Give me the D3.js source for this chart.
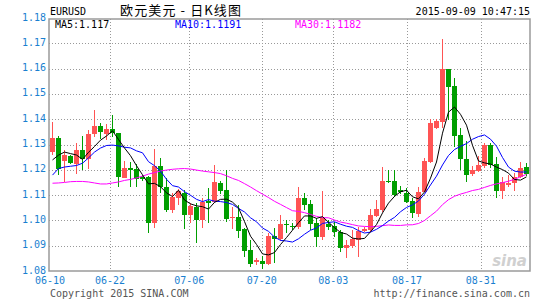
<!DOCTYPE html>
<html>
<head>
<meta charset="utf-8">
<script src="https://d3js.org/d3.v7.min.js"></script>
<style>
body { margin: 0; background: #fff; }
svg text { font-family: "DejaVu Sans Mono", monospace; font-size: 10px; }
.grid line { stroke: #999; stroke-dasharray: 1,2; shape-rendering: crispEdges; }
.ma { fill: none; stroke-width: 1; }
</style>
</head>
<body>
<svg id="chart"></svg>
<script>
// daily OHLC, EURUSD 2015-06-10 .. 2015-09-09
var opens = [1.1272,1.1326,1.1235,1.1255,1.1223,1.1278,1.1243,1.1340,1.1373,1.1342,
  1.1360,1.1344,1.1169,1.1208,1.1202,1.1173,1.1173,1.0991,1.1215,1.1133,
  1.1041,1.1087,1.1109,1.1021,1.1054,1.1002,1.1077,1.1074,1.1149,1.1120,
  1.1008,1.1015,1.0966,1.0883,1.0837,1.0840,1.0828,1.0938,1.0925,1.0986,
  1.0978,1.0975,1.1087,1.1065,1.0989,1.0933,1.0986,1.0978,1.0955,1.0890,
  1.0900,1.0923,1.0958,1.0962,1.1017,1.1041,1.1157,1.1157,1.1121,1.1110,
  1.1077,1.1027,1.1113,1.1232,1.1364,1.1390,1.1598,1.1531,1.1338,1.1242,
  1.1183,1.1196,1.1216,1.1298,1.1222,1.1117,1.1140,1.1147,1.1170,1.1212];
var highs = [1.1389,1.1335,1.1278,1.1258,1.1304,1.1334,1.1359,1.1436,1.1385,1.1381,
  1.1415,1.1344,1.1235,1.1230,1.1222,1.1179,1.1175,1.1281,1.1245,1.1166,
  1.1107,1.1123,1.1120,1.1070,1.1068,1.1087,1.1127,1.1219,1.1156,1.1199,
  1.1054,1.1061,1.0969,1.0923,1.0850,1.0859,1.0949,1.0969,1.1021,1.1002,
  1.0991,1.1133,1.1107,1.1081,1.1008,1.1117,1.1002,1.0995,1.0962,1.0923,
  1.0962,1.0973,1.0972,1.1045,1.1081,1.1213,1.1199,1.1199,1.1136,1.1128,
  1.1089,1.1132,1.1248,1.1400,1.1401,1.1717,1.1598,1.1562,1.1364,1.1314,
  1.1215,1.1253,1.1306,1.1306,1.1249,1.1173,1.1179,1.1186,1.1232,1.1226];
var lows = [1.1258,1.1179,1.1153,1.1223,1.1185,1.1199,1.1203,1.1328,1.1322,1.1318,
  1.1331,1.1133,1.1166,1.1133,1.1131,1.1156,1.0951,1.0969,1.1107,1.1034,
  1.1030,1.1061,1.0965,1.0989,1.0912,1.0969,1.0991,1.1069,1.1104,1.0995,
  1.0965,1.0929,1.0854,1.0817,1.0824,1.0807,1.0824,1.0830,1.0919,1.0949,
  1.0962,1.0966,1.1041,1.0962,1.0894,1.0923,1.0962,1.0933,1.0876,1.0850,
  1.0891,1.0855,1.0954,1.0955,1.1013,1.1033,1.1148,1.1094,1.1104,1.1069,
  1.1010,1.1015,1.1112,1.1226,1.1361,1.1364,1.1397,1.1291,1.1199,1.1153,
  1.1177,1.1191,1.1207,1.1207,1.1087,1.1085,1.1132,1.1117,1.1168,1.1176];
var closes = [1.1327,1.1203,1.1258,1.1226,1.1278,1.1241,1.1342,1.1374,1.1351,1.1360,
  1.1344,1.1170,1.1206,1.1199,1.1162,1.1164,1.0991,1.1216,1.1133,1.1041,
  1.1091,1.1117,1.1021,1.1057,1.1002,1.1074,1.1070,1.1153,1.1117,1.1006,
  1.1015,1.0958,1.0881,1.0828,1.0843,1.0828,1.0938,1.0928,1.0986,1.0981,
  1.0973,1.1087,1.1061,1.0986,1.0933,1.1008,1.0975,1.0955,1.0890,1.0903,
  1.0926,1.0959,1.0966,1.1021,1.1045,1.1156,1.1153,1.1100,1.1112,1.1074,
  1.1028,1.1112,1.1235,1.1386,1.1393,1.1598,1.1528,1.1335,1.1242,1.1179,
  1.1199,1.1219,1.1298,1.1219,1.1118,1.1150,1.1149,1.1173,1.1206,1.1183];

// MA values at the left edge (their windows start before the first visible day)
var ma5Head = [1.1239,1.1258,1.1270,1.1264];
var ma10Head = [1.1179,1.1205,1.1211,1.1214,1.1217,1.1226,1.1247,1.1270,1.1286];
var ma30Head = [1.1147,1.1148,1.1150,1.1153,1.1154,1.1154,1.1152,1.1148,1.1144,1.1144,
  1.1148,1.1152,1.1158,1.1162,1.1168,1.1175,1.1183,1.1189,1.1195,1.1199,
  1.1202,1.1204,1.1205,1.1203,1.1199,1.1195,1.1192,1.1189,1.1185];

var dateLabels = ['06-10','06-22','07-06','07-20','08-03','08-17','08-31'];
var datePos = [0, 10, 23.2, 35.3, 47.2, 59.5, 71.8];
var priceTicks = [1.08,1.09,1.10,1.11,1.12,1.13,1.14,1.15,1.16,1.17,1.18];
var legend = [['MA5:1.117', '#000'], ['MA10:1.1191', '#0000ff'], ['MA30:1.1182', '#ff00ff']];
var legendPos = [55, 175, 295];

function movingAvg(n, head) {
	return closes.map(function(c, i) {
		if (i < head.length) { return head[i]; }
		return d3.mean(closes.slice(i - n + 1, i + 1));
	});
}
var ma5 = movingAvg(5, ma5Head);
var ma10 = movingAvg(10, ma10Head);
var ma30 = movingAvg(30, ma30Head);

var W = 545, H = 300;
var box = { left: 49, right: 530, top: 19, bottom: 271 };
var svg = d3.select('#chart').attr('width', W).attr('height', H);

var x = d3.scaleLinear().domain([0, 80]).range([50, 530]);
var y = d3.scaleLinear().domain([1.08, 1.18]).range([271, 18]);

// grid
var grid = svg.append('g').attr('class', 'grid');
grid.selectAll('.hl').data(priceTicks.slice(1, -1)).enter().append('line')
	.attr('x1', box.left).attr('x2', box.right)
	.attr('y1', function(d) { return Math.round(y(d)) + 0.5; })
	.attr('y2', function(d) { return Math.round(y(d)) + 0.5; });
grid.selectAll('.vl').data(datePos.slice(1)).enter().append('line')
	.attr('y1', box.top).attr('y2', box.bottom)
	.attr('x1', function(d) { return Math.round(x(d)) + 0.5; })
	.attr('x2', function(d) { return Math.round(x(d)) + 0.5; });

// candles
var idx = d3.range(closes.length);
function col(i) { return closes[i] >= opens[i] ? '#ff5454' : '#009e00'; }
var candle = svg.append('g').attr('shape-rendering', 'crispEdges')
	.selectAll('g').data(idx).enter().append('g');
candle.append('line')
	.attr('x1', function(i) { return x(i) + 2.5; })
	.attr('x2', function(i) { return x(i) + 2.5; })
	.attr('y1', function(i) { return y(highs[i]); })
	.attr('y2', function(i) { return y(lows[i]); })
	.attr('stroke', col);
candle.append('rect')
	.attr('x', function(i) { return x(i); })
	.attr('width', 5)
	.attr('y', function(i) { return y(Math.max(opens[i], closes[i])); })
	.attr('height', function(i) { return Math.max(1, Math.abs(y(opens[i]) - y(closes[i]))); })
	.attr('fill', col);

// moving averages
var line = d3.line()
	.x(function(d, i) { return x(i) + 2.5; })
	.y(function(d) { return y(d); });
svg.append('path').attr('class', 'ma').attr('stroke', '#ff00ff').attr('d', line(ma30));
svg.append('path').attr('class', 'ma').attr('stroke', '#0000ff').attr('d', line(ma10));
svg.append('path').attr('class', 'ma').attr('stroke', '#000').attr('d', line(ma5));

// frame
svg.append('path')
	.attr('d', 'M' + box.left + ',' + box.top + 'V' + box.bottom + 'H' + box.right + 'V' + box.top + 'Z')
	.attr('fill', 'none').attr('stroke', '#9a9a9a').attr('stroke-width', 1.5);

// axis labels
svg.selectAll('.yl').data(priceTicks).enter().append('text')
	.attr('x', 46).attr('y', function(d) { return y(d) + 2.5; })
	.attr('text-anchor', 'end').attr('fill', '#1a7fd0')
	.text(function(d) { return d.toFixed(2); });
svg.selectAll('.xl').data(datePos).enter().append('text')
	.attr('x', function(d) { return x(d); }).attr('y', 284)
	.attr('text-anchor', 'middle').attr('fill', '#1a7fd0')
	.text(function(d, i) { return dateLabels[i]; });

// legend
svg.selectAll('.lg').data(legend).enter().append('text')
	.attr('x', function(d, i) { return legendPos[i]; }).attr('y', 28)
	.attr('fill', function(d) { return d[1]; })
	.text(function(d) { return d[0]; });

// header and footer
svg.append('text').attr('x', 50).attr('y', 15).text('EURUSD');
svg.append('text').attr('x', 120).attr('y', 15)
	.attr('textLength', 121).attr('lengthAdjust', 'spacing')
	.style('font-family', '"Noto Sans CJK SC", sans-serif').style('font-size', '13px')
	.text('欧元美元 - 日K线图');
svg.append('text').attr('x', 530).attr('y', 15).attr('text-anchor', 'end').text('2015-09-09 10:47:15');
svg.append('text').attr('x', 50).attr('y', 297).attr('fill', '#555').text('Copyright 2015 SINA.COM');
svg.append('text').attr('x', 530).attr('y', 297).attr('text-anchor', 'end').attr('fill', '#555').text('http://finance.sina.com.cn');
svg.append('text').attr('x', 527).attr('y', 266).attr('text-anchor', 'end')
	.attr('fill', '#d0d0d0').style('font-family', '"DejaVu Sans", sans-serif')
	.style('font-size', '15px').style('font-weight', 'bold').style('font-style', 'italic')
	.text('sina');
</script>
</body>
</html>
